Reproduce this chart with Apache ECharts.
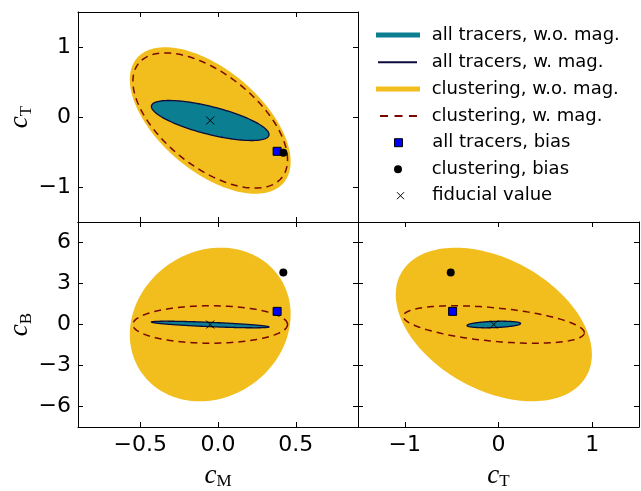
<!DOCTYPE html>
<html><head><meta charset="utf-8">
<script src="https://cdn.jsdelivr.net/npm/echarts@6/dist/echarts.min.js"></script>
<style>html,body{margin:0;padding:0;background:#fff}#c{width:641px;height:491px}</style>
</head><body><div id="c"></div><script>
// ---- data ----
// parameter order: cM, cT, cB
const fiducialValue   = [-0.05, -0.05, 0.0];
const allTracersBias  = [0.38, -0.49, 0.96];
const clusteringBias  = [0.42, -0.51, 3.80];
// contour half-extents along cM, cT, cB
const allWoMagHalf    = [0.378, 0.286, 0.24];
const allWMagHalf     = [0.378, 0.286, 0.24];
const clustWoMagHalf  = [0.517, 1.047, 5.62];
const clustWMagHalf   = [0.497, 0.966, 1.37];
// correlations for pairs (M,T), (M,B), (T,B)
const allWoMagCorr    = [-0.70, -0.75, 0.30];
const allWMagCorr     = [-0.70, -0.75, 0.30];
const clustWoMagCorr  = [-0.56, 0.13, -0.39];
const clustWMagCorr   = [-0.58, 0.00, -0.44];
// axis ranges and ticks
const rangeM = [-0.9, 0.9], rangeT = [-1.5, 1.5], rangeB = [-7.5, 7.5];
const ticksM = [-0.5, 0.0, 0.5];
const ticksT = [-1, 0, 1];
const ticksB = [-6, -3, 0, 3, 6];
const legendNames = ['all tracers, w.o. mag.', 'all tracers, w. mag.', 'clustering, w.o. mag.',
  'clustering, w. mag.', 'all tracers, bias', 'clustering, bias', 'fiducial value'];

// ---- styling ----
const TEAL = '#0c7e92', NAVY = '#0b0b3e', YELLOW = '#f1be1e', DRED = '#7a0800';
const FONT = 'DejaVu Sans';
const ranges = [rangeM, rangeT, rangeB];
const ticks = [ticksM, ticksT, ticksB];
const fmtM = v => (v < 0 ? '\u2212' : '') + Math.abs(v).toFixed(1);
const fmtI = v => (v < 0 ? '\u2212' : '') + Math.abs(Math.round(v));
const fmts = [fmtM, fmtI, fmtI];
const names = ['{c|c}{s|M}', '{c|c}{s|T}', '{c|c}{s|B}'];
const nameRich = {
  c: {fontFamily: 'Liberation Serif', fontStyle: 'italic', fontSize: 27, color: '#000'},
  s: {fontFamily: 'Liberation Serif', fontSize: 17, color: '#000', padding: [12, 0, 0, 0]}
};

const panels = [
  {ix: 0, iy: 1, pair: 0, grid: {left: 78, top: 12, width: 280, height: 210}, xLabel: false, yLabel: true},
  {ix: 0, iy: 2, pair: 1, grid: {left: 78, top: 222, width: 280, height: 210}, xLabel: true, yLabel: true},
  {ix: 1, iy: 2, pair: 2, grid: {left: 358, top: 222, width: 281, height: 210}, xLabel: true, yLabel: false}
];

function axis(p, showLabel, position, gridIndex, name, nameOpt) {
  const o = {
    type: 'value', gridIndex, position, min: ranges[p][0], max: ranges[p][1],
    axisLine: {show: true, onZero: false, lineStyle: {color: '#000', width: 1}},
    axisTick: {show: true, inside: true, length: 5, customValues: ticks[p], lineStyle: {color: '#000', width: 1}},
    axisLabel: {show: showLabel, customValues: ticks[p], formatter: fmts[p], fontFamily: FONT, fontSize: 22, color: '#000', margin: 7},
    splitLine: {show: false}
  };
  if (name) Object.assign(o, {name, nameLocation: 'middle', nameTextStyle: {rich: nameRich}}, nameOpt);
  return o;
}

const grids = [], xAxes = [], yAxes = [];
panels.forEach((pn, g) => {
  grids.push(pn.grid);
  xAxes[g] = axis(pn.ix, pn.xLabel, 'bottom', g, pn.xLabel ? names[pn.ix] : null, {nameGap: 34});
  xAxes[g + 3] = axis(pn.ix, false, 'top', g, null);
  yAxes[g] = axis(pn.iy, pn.yLabel, 'left', g, pn.yLabel ? names[pn.iy] : null, {nameGap: 42, nameRotate: 90});
  yAxes[g + 3] = axis(pn.iy, false, 'right', g, null);
});

function ellipse(api, pn, half, corr) {
  const r = corr[pn.pair], s = Math.sqrt(1 - r * r), pts = [];
  const N = 160;
  for (let k = 0; k < N; k++) {
    const t = 2 * Math.PI * k / N;
    const x = fiducialValue[pn.ix] + half[pn.ix] * Math.cos(t);
    const y = fiducialValue[pn.iy] + half[pn.iy] * (r * Math.cos(t) + s * Math.sin(t));
    pts.push(api.coord([x, y]));
  }
  return pts;
}

const contourDefs = [
  {name: legendNames[2], half: clustWoMagHalf, corr: clustWoMagCorr, style: {fill: YELLOW, stroke: null}, color: YELLOW},
  {name: legendNames[3], half: clustWMagHalf, corr: clustWMagCorr, style: {fill: 'none', stroke: DRED, lineWidth: 1.5, lineDash: [7, 5]}, color: DRED},
  {name: legendNames[0], half: allWoMagHalf, corr: allWoMagCorr, style: {fill: TEAL, stroke: null}, color: TEAL},
  {name: legendNames[1], half: allWMagHalf, corr: allWMagCorr, style: {fill: 'none', stroke: NAVY, lineWidth: 1.3}, color: NAVY}
];

const series = [];
panels.forEach((pn, g) => {
  contourDefs.forEach((cd, ci) => {
    series.push({
      type: 'custom', name: cd.name, xAxisIndex: g, yAxisIndex: g, clip: true, z: 2 + ci,
      itemStyle: {color: cd.color},
      data: [[fiducialValue[pn.ix], fiducialValue[pn.iy]]],
      renderItem: (params, api) => ({type: 'polygon', shape: {points: ellipse(api, pn, cd.half, cd.corr)}, style: Object.assign({}, cd.style)})
    });
  });
  series.push({
    type: 'scatter', name: legendNames[4], xAxisIndex: g, yAxisIndex: g, z: 10, symbol: 'rect', symbolSize: 8,
    itemStyle: {color: '#0000ff', borderColor: '#000', borderWidth: 1, opacity: 1},
    data: [[allTracersBias[pn.ix], allTracersBias[pn.iy]]]
  });
  series.push({
    type: 'scatter', name: legendNames[5], xAxisIndex: g, yAxisIndex: g, z: 10, symbol: 'circle', symbolSize: 8,
    itemStyle: {color: '#000', opacity: 1},
    data: [[clusteringBias[pn.ix], clusteringBias[pn.iy]]]
  });
  series.push({
    type: 'scatter', name: legendNames[6], xAxisIndex: g, yAxisIndex: g, z: 11, symbol: 'path://M0,0L10,10M10,0L0,10', symbolSize: 8,
    itemStyle: {color: 'none', borderColor: '#000', borderWidth: 1, opacity: 1},
    data: [[fiducialValue[pn.ix], fiducialValue[pn.iy]]]
  });
});

const rowY = [35, 62.3, 89, 116, 142.7, 169.3, 195.7];
const TEXT_X = 431.7;
const legendIcons = [
  {left: 376, w: 44, h: 5, icon: 'rect', style: {color: TEAL, borderWidth: 0}, dx: 0},
  {left: 378, w: 39, h: 2, icon: 'rect', style: {color: NAVY, borderWidth: 0}, dx: 0},
  {left: 376, w: 44, h: 5, icon: 'rect', style: {color: YELLOW, borderWidth: 0}, dx: 0},
  {left: 380, w: 37, h: 2, icon: 'path://M0,0h8v2h-8zM14.5,0h8v2h-8zM29,0h8v2h-8z', style: {color: DRED, borderWidth: 0}, dx: 0},
  {left: 394, w: 8, h: 8, icon: 'rect', style: {color: '#0000ff', borderColor: '#000', borderWidth: 1, opacity: 1}, dx: 0},
  {left: 394, w: 8, h: 8, icon: 'circle', style: {color: '#000', borderWidth: 0, opacity: 1}, dx: 0},
  {left: 394.5, w: 7, h: 7, icon: 'path://M0,0L10,10M10,0L0,10', style: {color: 'none', borderColor: '#000', borderWidth: 1, opacity: 1}, dx: -2}
];
const legends = legendIcons.map((li, i) => ({
  show: true, selectedMode: false, padding: 0, left: li.left, top: rowY[i] - 11, orient: 'horizontal',
  itemWidth: li.w, itemHeight: li.h, icon: li.icon,
  data: [{name: legendNames[i], icon: li.icon, itemStyle: li.style}],
  textStyle: {fontFamily: FONT, fontSize: 18, color: '#000', lineHeight: 22, padding: [0, 0, 0, TEXT_X - (li.left + li.w + 5) + li.dx]}
}));

const chart = echarts.init(document.getElementById('c'), null, {renderer: 'canvas'});
chart.setOption({
  animation: false, backgroundColor: '#fff',
  grid: grids, xAxis: xAxes, yAxis: yAxes, legend: legends, series
});
</script></body></html>
